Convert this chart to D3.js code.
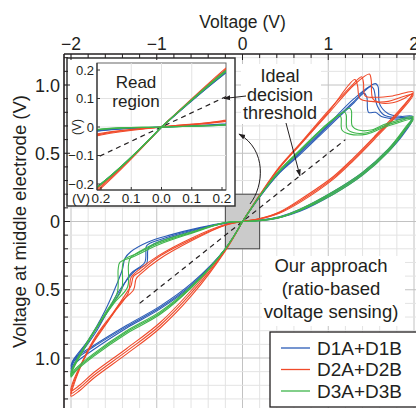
<!DOCTYPE html>
<html lang="en">
<head>
<meta charset="UTF-8">
<style>
  body { margin: 0; background: #fff; overflow: hidden; }
  svg { display: block; font-family: "Liberation Sans", Arial, sans-serif; }
  .grid { stroke: #e3e3e3; stroke-width: 1; }
  .grid.major { stroke: #c2c2c2; }
  .loop { fill: none; stroke-width: 1.1; }
  .lbl { fill: #231f20; }
</style>
<script src="https://cdn.jsdelivr.net/npm/d3@7"></script>
</head>
<body>
<svg id="chart" width="416" height="408"></svg>
<script>
  // axis ticks and labels
  const xTicks = [-2, -1, 0, 1, 2];
  const xTickLabels = ["\u22122", "\u22121", "0", "1", "2"];
  const yTicks = [1, 0.5, 0, -0.5, -1];
  const yTickLabels = ["1.0", "0.5", "0", "0.5", "1.0"];
  const insetXTicks = [-0.2, -0.1, 0, 0.1, 0.2];
  const insetXLabels = ["0.2", "0.1", "0.0", "0.1", "0.2"];
  const insetYTicks = [0.2, 0.1, 0, -0.1, -0.2];
  const insetYLabels = ["0.2", "0.1", "0", "\u22120.1", "\u22120.2"];

  const devices = ["D1A+D1B", "D2A+D2B", "D3A+D3B"];
  const colors = ["#2b5cb6", "#f04a2a", "#3fb54b"];

  // ideal decision threshold and the read region box
  const threshold = [[-1.2, -0.6], [1.2, 0.6]];
  const readRegion = [[-0.2, -0.2], [0.2, 0.2]];

  const d1Cycles = [
    [[0,0],[0.2,0.18],[0.43,0.36],[0.67,0.5],[1.0,0.7],[1.3,0.88],[1.5,0.99],[1.53,0.97],[1.57,0.85],[1.65,0.78],[1.8,0.76],[1.98,0.76],[1.9,0.67],[1.7,0.52],[1.4,0.35],[1.06,0.21],[0.67,0.08],[0.43,0.03],[0.2,0.008],[0,0],
     [-0.2,-0.012],[-0.5,-0.05],[-0.85,-0.11],[-1.08,-0.16],[-1.12,-0.18],[-1.14,-0.3],[-1.3,-0.38],[-1.46,-0.55],[-1.74,-0.82],[-1.98,-1.04],[-2.0,-1.08],[-1.96,-1.02],[-1.74,-0.92],[-1.35,-0.77],[-0.96,-0.63],[-0.59,-0.46],[-0.2,-0.2],[0,0]],
    [[0,0],[0.2,0.185],[0.43,0.37],[0.67,0.51],[1.0,0.71],[1.3,0.9],[1.55,1.01],[1.58,0.99],[1.6,0.86],[1.7,0.79],[1.85,0.77],[1.98,0.77],[1.9,0.68],[1.7,0.53],[1.4,0.36],[1.06,0.22],[0.67,0.09],[0.43,0.035],[0.2,0.01],[0,0],
     [-0.2,-0.01],[-0.5,-0.045],[-0.85,-0.1],[-1.1,-0.15],[-1.3,-0.22],[-1.37,-0.27],[-1.4,-0.35],[-1.46,-0.45],[-1.6,-0.65],[-1.8,-0.87],[-1.98,-1.02],[-2.0,-1.06],[-1.95,-1.0],[-1.74,-0.91],[-1.35,-0.76],[-0.96,-0.62],[-0.59,-0.45],[-0.2,-0.2],[0,0]],
    [[0,0],[0.2,0.18],[0.43,0.355],[0.67,0.49],[1.0,0.69],[1.3,0.87],[1.42,0.94],[1.45,0.91],[1.47,0.8],[1.55,0.8],[1.62,0.77],[1.8,0.75],[1.98,0.75],[1.9,0.66],[1.7,0.51],[1.4,0.34],[1.06,0.2],[0.67,0.075],[0.43,0.028],[0.2,0.006],[0,0],
     [-0.2,-0.013],[-0.5,-0.055],[-0.85,-0.12],[-1.05,-0.17],[-1.1,-0.2],[-1.12,-0.31],[-1.25,-0.36],[-1.43,-0.5],[-1.7,-0.8],[-1.98,-1.06],[-2.0,-1.1],[-1.95,-1.04],[-1.74,-0.94],[-1.35,-0.78],[-0.96,-0.64],[-0.59,-0.47],[-0.2,-0.2],[0,0]]
  ];

  const d2Cycles = [
    [[0,0],[0.2,0.19],[0.43,0.39],[0.67,0.56],[1.0,0.79],[1.3,1.0],[1.48,1.08],[1.5,1.04],[1.52,0.9],[1.6,0.87],[1.75,0.87],[1.88,0.9],[1.99,0.94],[1.85,0.82],[1.55,0.62],[1.3,0.46],[1.06,0.32],[0.67,0.15],[0.43,0.065],[0.2,0.02],[0,0],
     [-0.2,-0.025],[-0.59,-0.13],[-0.98,-0.26],[-1.2,-0.37],[-1.27,-0.4],[-1.3,-0.47],[-1.36,-0.53],[-1.5,-0.66],[-1.74,-0.87],[-1.98,-1.2],[-2.0,-1.26],[-1.9,-1.22],[-1.74,-1.13],[-1.35,-0.95],[-0.96,-0.76],[-0.59,-0.52],[-0.2,-0.21],[0,0]],
    [[0,0],[0.2,0.195],[0.43,0.4],[0.67,0.57],[1.0,0.81],[1.25,0.98],[1.39,1.06],[1.41,1.02],[1.43,0.92],[1.55,0.91],[1.75,0.92],[1.99,0.95],[1.85,0.83],[1.55,0.63],[1.3,0.47],[1.06,0.33],[0.67,0.16],[0.43,0.07],[0.2,0.022],[0,0],
     [-0.2,-0.028],[-0.59,-0.14],[-0.98,-0.28],[-1.18,-0.38],[-1.24,-0.42],[-1.27,-0.5],[-1.4,-0.58],[-1.6,-0.76],[-1.8,-0.95],[-1.98,-1.22],[-2.0,-1.28],[-1.9,-1.24],[-1.74,-1.15],[-1.35,-0.97],[-0.96,-0.78],[-0.59,-0.54],[-0.2,-0.215],[0,0]],
    [[0,0],[0.2,0.19],[0.43,0.395],[0.67,0.565],[1.0,0.8],[1.31,1.04],[1.34,1.0],[1.37,0.9],[1.5,0.88],[1.7,0.88],[1.85,0.91],[1.99,0.93],[1.85,0.81],[1.55,0.61],[1.3,0.45],[1.06,0.31],[0.67,0.14],[0.43,0.06],[0.2,0.018],[0,0],
     [-0.2,-0.022],[-0.59,-0.12],[-0.98,-0.25],[-1.22,-0.36],[-1.3,-0.41],[-1.33,-0.52],[-1.5,-0.67],[-1.74,-0.88],[-1.98,-1.18],[-2.0,-1.24],[-1.9,-1.2],[-1.74,-1.11],[-1.35,-0.93],[-0.96,-0.74],[-0.59,-0.5],[-0.2,-0.205],[0,0]]
  ];

  const d3Cycles = [
    [[0,0],[0.2,0.185],[0.43,0.37],[0.67,0.52],[1.0,0.72],[1.19,0.8],[1.21,0.78],[1.22,0.68],[1.3,0.65],[1.45,0.65],[1.65,0.7],[1.8,0.73],[1.99,0.76],[1.9,0.68],[1.7,0.52],[1.4,0.35],[1.06,0.21],[0.67,0.085],[0.43,0.03],[0.2,0.007],[0,0],
     [-0.2,-0.008],[-0.59,-0.08],[-0.98,-0.16],[-1.25,-0.24],[-1.38,-0.28],[-1.4,-0.33],[-1.41,-0.5],[-1.56,-0.64],[-1.76,-0.83],[-1.98,-1.07],[-2.0,-1.12],[-1.95,-1.08],[-1.74,-0.97],[-1.35,-0.8],[-0.96,-0.66],[-0.59,-0.47],[-0.2,-0.2],[0,0]],
    [[0,0],[0.2,0.188],[0.43,0.375],[0.67,0.525],[1.0,0.72],[1.13,0.78],[1.15,0.76],[1.16,0.67],[1.25,0.64],[1.45,0.64],[1.65,0.69],[1.8,0.72],[1.99,0.75],[1.9,0.67],[1.7,0.51],[1.4,0.34],[1.06,0.2],[0.67,0.08],[0.43,0.028],[0.2,0.006],[0,0],
     [-0.2,-0.007],[-0.59,-0.075],[-0.98,-0.15],[-1.2,-0.22],[-1.31,-0.27],[-1.33,-0.32],[-1.34,-0.48],[-1.5,-0.6],[-1.76,-0.84],[-1.98,-1.08],[-2.0,-1.13],[-1.95,-1.09],[-1.74,-0.98],[-1.35,-0.81],[-0.96,-0.67],[-0.59,-0.48],[-0.2,-0.2],[0,0]],
    [[0,0],[0.2,0.183],[0.43,0.365],[0.67,0.515],[1.0,0.715],[1.25,0.83],[1.27,0.81],[1.28,0.7],[1.35,0.67],[1.5,0.67],[1.65,0.71],[1.8,0.74],[1.99,0.77],[1.9,0.69],[1.7,0.53],[1.4,0.36],[1.06,0.22],[0.67,0.09],[0.43,0.032],[0.2,0.008],[0,0],
     [-0.2,-0.009],[-0.59,-0.085],[-0.98,-0.17],[-1.28,-0.26],[-1.43,-0.3],[-1.45,-0.35],[-1.46,-0.52],[-1.6,-0.67],[-1.78,-0.86],[-1.98,-1.09],[-2.0,-1.14],[-1.95,-1.1],[-1.74,-0.99],[-1.35,-0.82],[-0.96,-0.68],[-0.59,-0.48],[-0.2,-0.2],[0,0]]
  ];

  const allCycles = [d1Cycles, d2Cycles, d3Cycles];

  const svg = d3.select("#chart");
  const plot = { left: 64, top: 54, right: 416, bottom: 408 };
  const x = d3.scaleLinear().domain([-2, 2]).range([71, 414]);
  const y = d3.scaleLinear().domain([-1, 1]).range([358, 85]);

  // inset (read region) scales
  const inner = { left: 97, top: 63, right: 226, bottom: 190 };
  const xIn = d3.scaleLinear().domain([-0.2, 0.2]).range([101, 222]);
  const yIn = d3.scaleLinear().domain([-0.2, 0.2]).range([184, 70]);

  const defs = svg.append("defs");
  defs.append("clipPath").attr("id", "plotClip").append("rect")
    .attr("x", plot.left).attr("y", plot.top)
    .attr("width", plot.right - plot.left).attr("height", plot.bottom - plot.top);
  defs.append("clipPath").attr("id", "insetClip").append("rect")
    .attr("x", inner.left).attr("y", inner.top)
    .attr("width", inner.right - inner.left).attr("height", inner.bottom - inner.top);
  defs.append("marker")
    .attr("id", "arrow").attr("viewBox", "0 0 10 10")
    .attr("refX", 9).attr("refY", 5)
    .attr("markerWidth", 7).attr("markerHeight", 7)
    .attr("markerUnits", "userSpaceOnUse")
    .attr("orient", "auto")
    .append("path").attr("d", "M0,1.5 L10,5 L0,8.5 z").attr("fill", "#231f20");

  // grid lines, every 0.2 V across and 0.1 V up
  const grid = svg.append("g").attr("clip-path", "url(#plotClip)");
  grid.selectAll(".gx").data(d3.range(-22, 22, 2)).join("line")
    .attr("class", d => d % 10 === 0 ? "grid major" : "grid")
    .attr("x1", d => x(d / 10)).attr("x2", d => x(d / 10))
    .attr("y1", plot.top).attr("y2", plot.bottom);
  grid.selectAll(".gy").data(d3.range(-14, 13)).join("line")
    .attr("class", d => d % 5 === 0 ? "grid major" : "grid")
    .attr("x1", plot.left).attr("x2", plot.right)
    .attr("y1", d => y(d / 10)).attr("y2", d => y(d / 10));

  // grey read region box
  svg.append("rect")
    .attr("x", x(readRegion[0][0])).attr("y", y(readRegion[1][1]))
    .attr("width", x(readRegion[1][0]) - x(readRegion[0][0]))
    .attr("height", y(readRegion[0][1]) - y(readRegion[1][1]))
    .attr("fill", "#cbcbcb").attr("stroke", "#444").attr("stroke-width", 1);

  // white panels behind the annotation text
  svg.append("rect").attr("x", 241).attr("y", 64).attr("width", 80).attr("height", 60).attr("fill", "#fff");
  svg.append("rect").attr("x", 262).attr("y", 256).attr("width", 143).attr("height", 70).attr("fill", "#fff");

  const line = d3.line().x(d => x(d[0])).y(d => y(d[1])).curve(d3.curveCatmullRom.alpha(0.5));
  const lineIn = d3.line().x(d => xIn(d[0])).y(d => yIn(d[1])).curve(d3.curveCatmullRom.alpha(0.5));

  svg.append("path").datum(threshold)
    .attr("d", d3.line().x(d => x(d[0])).y(d => y(d[1])))
    .attr("stroke", "#231f20").attr("stroke-width", 1.2)
    .attr("stroke-dasharray", "5,4").attr("fill", "none");

  const curves = svg.append("g").attr("clip-path", "url(#plotClip)");
  allCycles.forEach((cycles, i) => {
    curves.append("g").selectAll("path").data(cycles).join("path")
      .attr("class", "loop").attr("stroke", colors[i]).attr("d", line);
  });

  // ---- inset ----
  svg.append("rect").attr("x", 67).attr("y", 58).attr("width", 168).attr("height", 148)
    .attr("fill", "#fff").attr("stroke", "#333").attr("stroke-width", 1.5);
  svg.append("rect").attr("x", inner.left).attr("y", inner.top)
    .attr("width", inner.right - inner.left).attr("height", inner.bottom - inner.top)
    .attr("fill", "#fff").attr("stroke", "#666").attr("stroke-width", 1);

  const gIn = svg.append("g").attr("clip-path", "url(#insetClip)");
  gIn.selectAll(".ix").data([-0.1, 0, 0.1]).join("line").attr("class", "grid")
    .attr("x1", d => xIn(d)).attr("x2", d => xIn(d))
    .attr("y1", inner.top).attr("y2", inner.bottom);
  gIn.selectAll(".iy").data([-0.1, 0, 0.1]).join("line").attr("class", "grid")
    .attr("x1", inner.left).attr("x2", inner.right)
    .attr("y1", d => yIn(d)).attr("y2", d => yIn(d));
  gIn.append("path").datum(threshold).attr("d", d3.line().x(d => xIn(d[0])).y(d => yIn(d[1])))
    .attr("stroke", "#231f20").attr("stroke-width", 1.2)
    .attr("stroke-dasharray", "5,4").attr("fill", "none");
  allCycles.forEach((cycles, i) => {
    gIn.append("g").selectAll("path").data(cycles).join("path")
      .attr("class", "loop").attr("stroke", colors[i]).attr("d", lineIn);
  });
  // inset axis lines and ticks
  svg.append("line").attr("x1", inner.left).attr("x2", inner.left)
    .attr("y1", inner.top).attr("y2", inner.bottom).attr("stroke", "#333").attr("stroke-width", 1.2);
  svg.append("line").attr("x1", inner.left).attr("x2", inner.right)
    .attr("y1", inner.bottom).attr("y2", inner.bottom).attr("stroke", "#333").attr("stroke-width", 1.2);
  svg.selectAll(".iyt").data(insetYTicks).join("line")
    .attr("x1", inner.left).attr("x2", inner.left + 3)
    .attr("y1", d => yIn(d)).attr("y2", d => yIn(d)).attr("stroke", "#333");
  svg.selectAll(".ixt").data(insetXTicks).join("line")
    .attr("x1", d => xIn(d)).attr("x2", d => xIn(d))
    .attr("y1", inner.bottom).attr("y2", inner.bottom - 3).attr("stroke", "#333");

  svg.selectAll(".iyl").data(insetYTicks).join("text").attr("class", "lbl")
    .attr("x", 94).attr("y", d => yIn(d) + 4.5)
    .attr("text-anchor", "end").attr("font-size", 13)
    .text((d, i) => insetYLabels[i]);
  svg.selectAll(".ixl").data(insetXTicks).join("text").attr("class", "lbl")
    .attr("x", d => xIn(d)).attr("y", 203)
    .attr("text-anchor", "middle").attr("font-size", 13.5)
    .text((d, i) => insetXLabels[i]);
  svg.append("text").attr("class", "lbl").attr("x", 81).attr("y", 203)
    .attr("text-anchor", "middle").attr("font-size", 13.5).text("(V)");
  svg.append("text").attr("class", "lbl")
    .attr("transform", "translate(81," + yIn(0) + ") rotate(-90)")
    .attr("text-anchor", "middle").attr("font-size", 12).text("(V)");

  svg.append("text").attr("class", "lbl").attr("x", 136).attr("y", 88)
    .attr("text-anchor", "middle").attr("font-size", 17).text("Read");
  svg.append("text").attr("class", "lbl").attr("x", 136).attr("y", 107)
    .attr("text-anchor", "middle").attr("font-size", 17).text("region");

  // ---- main frame and axes ----
  svg.append("line").attr("x1", plot.left).attr("x2", plot.left)
    .attr("y1", plot.top).attr("y2", plot.bottom).attr("stroke", "#231f20").attr("stroke-width", 1.6);
  svg.append("line").attr("x1", plot.left).attr("x2", plot.right)
    .attr("y1", plot.top).attr("y2", plot.top).attr("stroke", "#231f20").attr("stroke-width", 1.6);
  svg.selectAll(".ylt").data(d3.range(-13, 13)).join("line")
    .attr("x1", plot.left).attr("x2", d => plot.left + (d % 5 === 0 ? 6 : 4))
    .attr("y1", d => y(d / 10)).attr("y2", d => y(d / 10))
    .attr("stroke", "#231f20");
  svg.selectAll(".xlt").data(d3.range(-20, 21, 2)).join("line")
    .attr("x1", d => x(d / 10)).attr("x2", d => x(d / 10))
    .attr("y1", plot.top).attr("y2", d => plot.top + (d % 10 === 0 ? 6 : 4))
    .attr("stroke", "#231f20");

  svg.selectAll(".xl").data(xTicks).join("text").attr("class", "lbl")
    .attr("x", d => x(d)).attr("y", 50)
    .attr("text-anchor", "middle").attr("font-size", 17.5)
    .text((d, i) => xTickLabels[i]);
  svg.selectAll(".yl").data(yTicks).join("text").attr("class", "lbl")
    .attr("x", 60).attr("y", d => y(d) + 6.5)
    .attr("text-anchor", "end").attr("font-size", 18)
    .text((d, i) => yTickLabels[i]);

  svg.append("text").attr("class", "lbl").attr("x", x(0)).attr("y", 28)
    .attr("text-anchor", "middle").attr("font-size", 17.5).text("Voltage (V)");
  svg.append("text").attr("class", "lbl")
    .attr("transform", "translate(26," + y(0) + ") rotate(-90)")
    .attr("text-anchor", "middle").attr("font-size", 18.5)
    .text("Voltage at middle electrode (V)");

  // ---- annotations ----
  [["Ideal", 82], ["decision", 100.5], ["threshold", 119]].forEach(t => {
    svg.append("text").attr("class", "lbl").attr("x", 280).attr("y", t[1])
      .attr("text-anchor", "middle").attr("font-size", 18).text(t[0]);
  });
  [["Our approach", 272], ["(ratio-based", 295], ["voltage sensing)", 318]].forEach(t => {
    svg.append("text").attr("class", "lbl").attr("x", 331).attr("y", t[1])
      .attr("text-anchor", "middle").attr("font-size", 18.5).text(t[0]);
  });

  const ink = "#231f20";
  svg.append("line").attr("x1", 246).attr("y1", 96).attr("x2", xIn(0.2) + 2).attr("y2", yIn(0.1))
    .attr("stroke", ink).attr("stroke-width", 1).attr("marker-end", "url(#arrow)");
  svg.append("line").attr("x1", 286).attr("y1", 123).attr("x2", x(0.67)).attr("y2", y(0.335))
    .attr("stroke", ink).attr("stroke-width", 1).attr("marker-end", "url(#arrow)");
  svg.append("path").attr("d", "M250,204 C264,186 267,150 239,134")
    .attr("fill", "none").attr("stroke", ink).attr("stroke-width", 1).attr("marker-end", "url(#arrow)");

  // ---- legend ----
  svg.append("rect").attr("x", 270).attr("y", 332).attr("width", 150).attr("height", 75)
    .attr("fill", "#fff").attr("stroke", "#231f20").attr("stroke-width", 1.3);
  const leg = svg.selectAll(".leg").data(devices).join("g")
    .attr("transform", (d, i) => "translate(0," + (348 + i * 21.5) + ")");
  leg.append("line").attr("x1", 281).attr("x2", 310)
    .attr("stroke", (d, i) => colors[i]).attr("stroke-width", 1.3);
  leg.append("text").attr("class", "lbl").attr("x", 317).attr("y", 6.8)
    .attr("font-size", 19).text(d => d);
</script>
</body>
</html>
